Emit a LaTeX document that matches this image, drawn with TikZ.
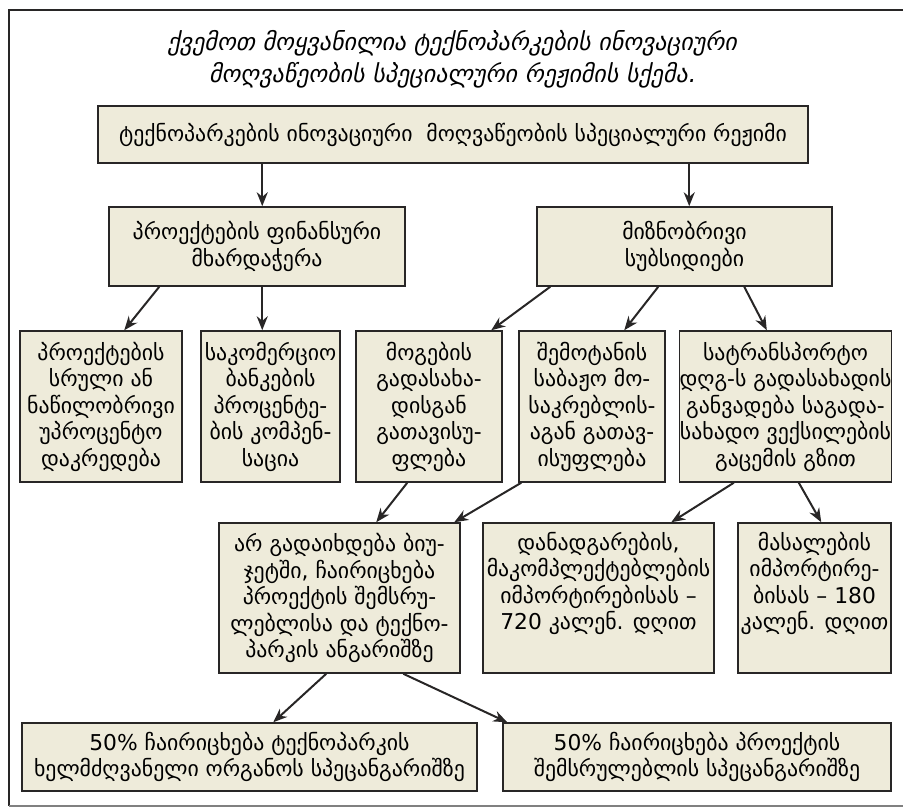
\documentclass[tikz,border=0pt]{standalone}
\usepackage{fontspec}
\setmainfont{DejaVu Sans}
\newfontfamily\geofont{DejaVu Sans}
\newfontfamily\geoit[FakeSlant=0.2]{DejaVu Sans}
\usetikzlibrary{arrows.meta}
\definecolor{boxfill}{RGB}{238,235,218}
\definecolor{boxline}{RGB}{40,38,38}
\tikzset{
  box/.style={draw=boxline, fill=boxfill, line width=1.5pt, inner sep=0pt, align=center,
    font=\geofont\fontsize{21.8}{26.5}\selectfont},
  ttl/.style={inner sep=0pt, align=center, font=\geoit\fontsize{24}{32}\selectfont},
  arr/.style={-{Stealth[length=14pt,width=11pt]}, line width=2pt, draw=boxline},
  frameline/.style={line width=2.2pt, draw=boxline},
}
\begin{document}
\begin{tikzpicture}[x=1pt,y=-1pt]
\useasboundingbox (0,0) rectangle (903,807);
\draw[frameline] (903,10) -- (9,10) -- (9,806);
\draw[line width=1.2pt, draw=gray] (9,806) -- (903,806);

\node[ttl] (t1) at (452,43) {ქვემოთ მოყვანილია ტექნოპარკების ინოვაციური};
\node[ttl] (t2) at (452,75) {მოღვაწეობის სპეციალური რეჟიმის სქემა.};

\node[box, minimum width=710pt, minimum height=57pt] (top) at (453,134.5)
  {ტექნოპარკების ინოვაციური\ \ მოღვაწეობის სპეციალური რეჟიმი};

\node[box, minimum width=296pt, minimum height=79pt] (l2l) at (257,246.5)
  {პროექტების ფინანსური\\მხარდაჭერა};
\node[box, minimum width=295pt, minimum height=79pt] (l2r) at (684.5,246.5)
  {მიზნობრივი\\სუბსიდიები};

\node[box, minimum width=162pt, minimum height=151pt] (b1) at (101,406.5)
  {პროექტების\\სრული ან\\ნაწილობრივი\\უპროცენტო\\დაკრედება};
\node[box, minimum width=139pt, minimum height=151pt] (b2) at (270.5,406.5)
  {საკომერციო\\ბანკების\\პროცენტე-\\ბის კომპენ-\\საცია};
\node[box, minimum width=146pt, minimum height=151pt] (b3) at (429,406.5)
  {მოგების\\გადასახა-\\დისგან\\გათავისუ-\\ფლება};
\node[box, minimum width=146pt, minimum height=151pt] (b4) at (592,406.5)
  {შემოტანის\\საბაჟო მო-\\საკრებლის-\\აგან გათავ-\\ისუფლება};
\node[box, minimum width=211pt, minimum height=151pt] (b5) at (785.5,406.5)
  {სატრანსპორტო\\დღგ-ს გადასახადის\\განვადება საგადა-\\სახადო ვექსილების\\გაცემის გზით};

\node[box, minimum width=241pt, minimum height=150pt] (c1) at (339.5,598)
  {არ გადაიხდება ბიუ-\\ჯეტში, ჩაირიცხება\\პროექტის შემსრუ-\\ლებლისა და ტექნო-\\პარკის ანგარიშზე};
\node[box, minimum width=231pt, minimum height=150pt] (c2) at (598.5,598)
  {დანადგარების,\\მაკომპლექტებლების\\იმპორტირებისას –\\720 კალენ. დღით\\\strut};
\node[box, minimum width=153pt, minimum height=150pt] (c3) at (814.5,598)
  {მასალების\\იმპორტირე-\\ბისას – 180\\კალენ. დღით\\\strut};

\node[box, minimum width=455pt, minimum height=68pt] (d1) at (249.5,757)
  {50\% ჩაირიცხება ტექნოპარკის\\ხელმძღვანელი ორგანოს სპეცანგარიშზე};
\node[box, minimum width=388pt, minimum height=68pt] (d2) at (697,757)
  {50\% ჩაირიცხება პროექტის\\შემსრულებლის სპეცანგარიშზე};

\draw[arr] ([xshift=165pt]top.south west) -- ([xshift=154pt]l2l.north west);
\draw[arr] ([xshift=592pt]top.south west) -- ([xshift=153pt]l2r.north west);

\draw[arr] ([xshift=51pt]l2l.south west) -- ([xshift=105pt]b1.north west);
\draw[arr] ([xshift=154pt]l2l.south west) -- ([xshift=62pt]b2.north west);

\draw[arr] ([xshift=14pt]l2r.south west) -- ([xshift=136pt]b3.north west);
\draw[arr] ([xshift=122pt]l2r.south west) -- ([xshift=106pt]b4.north west);
\draw[arr] ([xshift=208pt]l2r.south west) -- ([xshift=88pt]b5.north west);

\draw[arr] ([xshift=52pt]b3.south west) -- ([xshift=158pt]c1.north west);
\draw[arr] ([xshift=3pt]b4.south west) -- ([xshift=236pt]c1.north west);
\draw[arr] ([xshift=55pt]b5.south west) -- ([xshift=189pt]c2.north west);
\draw[arr] ([xshift=120pt]b5.south west) -- ([xshift=84pt]c3.north west);

\draw[arr] ([xshift=108pt]c1.south west) -- ([xshift=252pt]d1.north west);
\draw[arr] ([xshift=185pt]c1.south west) -- ([xshift=5pt]d2.north west);
\end{tikzpicture}
\end{document}
